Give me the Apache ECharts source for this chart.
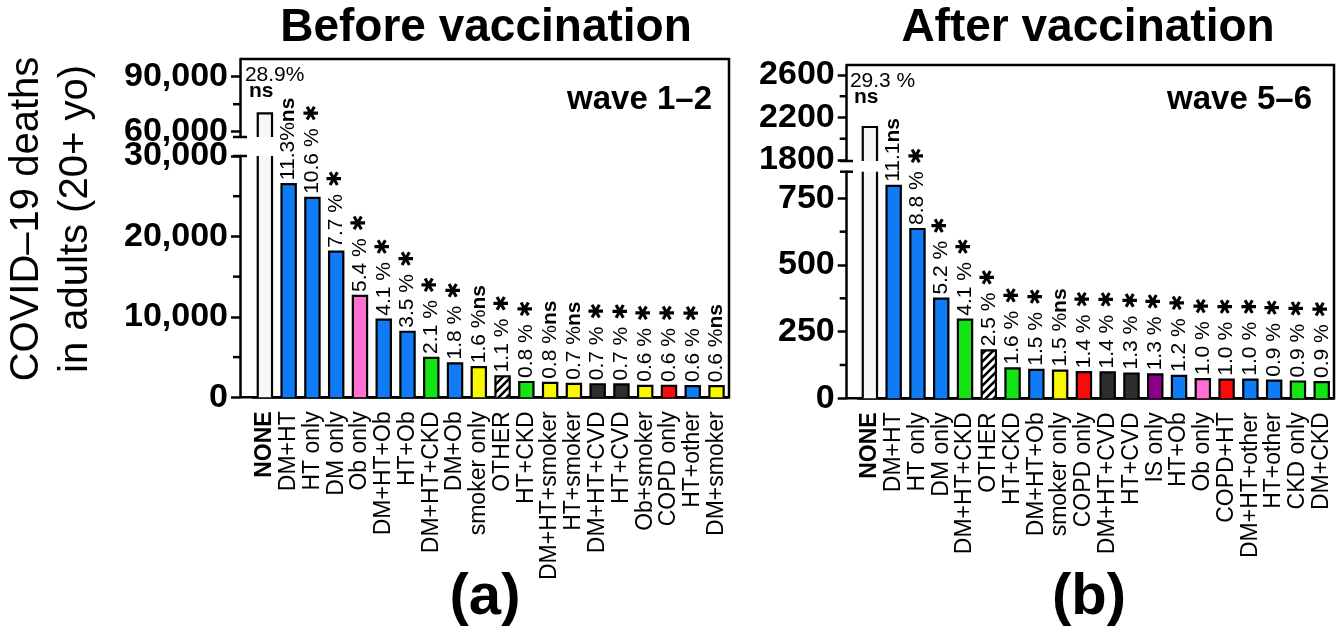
<!DOCTYPE html>
<html><head><meta charset="utf-8">
<script src="https://cdn.jsdelivr.net/npm/echarts@6/dist/echarts.min.js"></script>
<style>html,body{margin:0;padding:0;background:#fff}#c{width:1341px;height:627px}</style>
</head><body><div id="c"></div>
<script>
// ---------- data ----------
const categoriesA = ['NONE','DM+HT','HT only','DM only','Ob only','DM+HT+Ob','HT+Ob','DM+HT+CKD','DM+Ob','smoker only','OTHER','HT+CKD','DM+HT+smoker','HT+smoker','DM+HT+CVD','HT+CVD','Ob+smoker','COPD only','HT+other','DM+smoker'];
const valuesA = [70000,26500,24800,18100,12600,9650,8150,4900,4210,3740,2600,1900,1800,1680,1620,1600,1430,1420,1400,1380];
const percentA = ['28.9%','11.3%','10.6 %','7.7 %','5.4 %','4.1 %','3.5 %','2.1 %','1.8 %','1.6 %','1.1 %','0.8 %','0.8 %','0.7 %','0.7 %','0.7 %','0.6 %','0.6 %','0.6 %','0.6 %'];
const signifA = ['ns','ns','*','*','*','*','*','*','*','ns','*','*','ns','ns','*','*','*','*','*','ns'];
const colorKeysA = ['none','blue','blue','blue','pink','blue','blue','green','blue','yellow','hatch','green','yellow','yellow','dark','dark','yellow','red','blue','yellow'];

const categoriesB = ['NONE','DM+HT','HT only','DM only','DM+HT+CKD','OTHER','HT+CKD','DM+HT+Ob','smoker only','COPD only','DM+HT+CVD','HT+CVD','IS only','HT+Ob','Ob only','COPD+HT','DM+HT+other','HT+other','CKD only','DM+CKD'];
const valuesB = [2110,797,635,374,295,180,112,107,104,98,97,93,90,84,72,70,70,66,63,61];
const percentB = ['29.3 %','11.1','8.8 %','5.2 %','4.1 %','2.5 %','1.6 %','1.5 %','1.5 %','1.4 %','1.4 %','1.3 %','1.3 %','1.2 %','1.0 %','1.0 %','1.0 %','0.9 %','0.9 %','0.9 %'];
const signifB = ['ns','ns','*','*','*','*','*','*','ns','*','*','*','*','*','*','*','*','*','*','*'];
const colorKeysB = ['none','blue','blue','blue','green','hatch','green','blue','yellow','red','dark','dark','purple','blue','pink','red','blue','blue','green','green'];

const ticksAUpper = [60000, 90000];
const minorAUpper = [75000];
const ticksALower = [0, 10000, 20000, 30000];
const minorALower = [5000, 15000, 25000];
const ticksBUpper = [1800, 2200, 2600];
const minorBUpper = [2000, 2400];
const ticksBLower = [0, 250, 500, 750];
const minorBLower = [125, 375, 625];

// ---------- styles ----------
const FF = '"Liberation Sans", Arial, Helvetica, sans-serif';
const hatch = document.createElement('canvas');
hatch.width = 8; hatch.height = 8;
(function () {
  const g = hatch.getContext('2d');
  g.fillStyle = '#fff'; g.fillRect(0, 0, 8, 8);
  g.strokeStyle = '#000'; g.lineWidth = 2.6; g.beginPath();
  g.moveTo(-2, 10); g.lineTo(10, -2);
  g.moveTo(-2, 2); g.lineTo(2, -2);
  g.moveTo(6, 10); g.lineTo(10, 6);
  g.stroke();
})();
const palette = {
  none: '#f7f7f7', blue: '#0f7cf6', green: '#14e414', yellow: '#f8f800',
  pink: '#ff70d2', dark: '#2e2e2e', red: '#fa0a0a', purple: '#8a0088',
  hatch: { image: hatch, repeat: 'repeat' }
};

function barRenderer(pcts, sigs, keys, mode) {
  return function (params, api) {
    const i = api.value(0), v = api.value(1);
    const cs = params.coordSys;
    const pTop = api.coord([i, v]), pBase = api.coord([i, 0]);
    const bw = api.size([1, 0])[0] * 0.6;
    const cx = pTop[0], x0 = cx - bw / 2, x1 = cx + bw / 2;
    let yT = pTop[1], yB = pBase[1];
    const clipT = yT < cs.y, clipB = yB > cs.y + cs.height;
    if (clipT) yT = cs.y;
    if (clipB) yB = cs.y + cs.height;
    const children = [];
    if (yT < yB) {
      children.push({ type: 'rect', shape: { x: x0, y: yT, width: bw, height: yB - yT }, style: { fill: palette[keys[i]] } });
      const ls = { stroke: '#000', lineWidth: 2.2, fill: null };
      if (clipT) {
        children.push({ type: 'polyline', shape: { points: [[x0, yB], [x0, yT]] }, style: ls });
        children.push({ type: 'polyline', shape: { points: [[x1, yT], [x1, yB]] }, style: ls });
      } else {
        children.push({ type: 'polyline', shape: { points: [[x0, yB], [x0, yT], [x1, yT], [x1, yB]] }, style: ls });
      }
    }
    if (mode === 'lower' && i > 0) {
      const sig = sigs[i] === 'ns' ? '{n|ns}' : '{s| ✱}';
      children.push({
        type: 'text', x: cx, y: yT - 4, rotation: Math.PI / 2,
        style: {
          text: '{p|' + pcts[i] + '}' + sig, align: 'left', verticalAlign: 'middle',
          rich: {
            p: { fontSize: 21, fontFamily: FF, fill: '#000' },
            n: { fontSize: 21, fontFamily: FF, fontWeight: 'bold', fill: '#000' },
            s: { fontSize: 20, fontFamily: '"DejaVu Sans", sans-serif', fontWeight: 'bold', fill: '#000' }
          }
        }
      });
    }
    if (mode === 'upper' && i === 0) {
      children.push({ type: 'text', x: cx - 20, y: cs.y + 16, style: { text: pcts[0], fontSize: 21, fontFamily: FF, fill: '#000', align: 'left', verticalAlign: 'middle' } });
      children.push({ type: 'text', x: cx - 16, y: cs.y + 32, style: { text: sigs[0], fontSize: 21, fontWeight: 'bold', fontFamily: FF, fill: '#000', align: 'left', verticalAlign: 'middle' } });
    }
    return { type: 'group', children: children };
  };
}

const grids = [
  { left: 253, top: 59, width: 475.4, height: 78 },
  { left: 253, top: 156, width: 475.4, height: 241.3 },
  { left: 858, top: 65, width: 475.6, height: 96 },
  { left: 858, top: 171.7, width: 475.6, height: 226.6 }
];
const axisX = [240, 240, 846.7, 846.7];

function xAxisFor(gridIndex, cats, show) {
  return {
    type: 'category', gridIndex: gridIndex, data: cats, show: show, boundaryGap: true,
    axisLine: { lineStyle: { color: '#000', width: 2.5 } },
    axisTick: { alignWithLabel: true, length: 8, lineStyle: { color: '#000', width: 2.5 } },
    axisLabel: {
      interval: 0, rotate: 90, fontSize: 23, color: '#000', margin: 14, fontFamily: FF,
      formatter: function (v) { return v === 'NONE' ? '{b|NONE}' : v; },
      rich: { b: { fontWeight: 'bold', fontSize: 23, fontFamily: FF, color: '#000' } }
    },
    splitLine: { show: false }
  };
}
function yMajor(gridIndex, min, max, offset, ticks, fmt) {
  return {
    type: 'value', gridIndex: gridIndex, position: 'left', min: min, max: max, offset: offset,
    axisLine: { show: true, lineStyle: { color: '#000', width: 2.5 } },
    axisTick: { show: true, customValues: ticks, length: 9, lineStyle: { color: '#000', width: 2.5 } },
    axisLabel: { customValues: ticks, formatter: fmt, fontSize: 34, fontWeight: 'bold', color: '#000', margin: 12, fontFamily: FF },
    splitLine: { show: false }
  };
}
const fmtComma = function (v) { return Number(v).toLocaleString('en-US'); };
const fmtPlain = function (v) { return String(v); };

const baseGraphics = [
  { type: 'text', x: 486, y: 28, style: { text: 'Before vaccination', fontSize: 46, fontWeight: 'bold', fontFamily: FF, fill: '#000', align: 'center', verticalAlign: 'middle' } },
  { type: 'text', x: 1088, y: 28, style: { text: 'After vaccination', fontSize: 46, fontWeight: 'bold', fontFamily: FF, fill: '#000', align: 'center', verticalAlign: 'middle' } },
  { type: 'text', x: 712, y: 100, style: { text: 'wave 1–2', fontSize: 33, fontWeight: 'bold', fontFamily: FF, fill: '#000', align: 'right', verticalAlign: 'middle' } },
  { type: 'text', x: 1312, y: 100, style: { text: 'wave 5–6', fontSize: 33, fontWeight: 'bold', fontFamily: FF, fill: '#000', align: 'right', verticalAlign: 'middle' } },
  { type: 'text', x: 485, y: 598, style: { text: '(a)', fontSize: 58, fontWeight: 'bold', fontFamily: FF, fill: '#000', align: 'center', verticalAlign: 'middle' } },
  { type: 'text', x: 1089, y: 598, style: { text: '(b)', fontSize: 58, fontWeight: 'bold', fontFamily: FF, fill: '#000', align: 'center', verticalAlign: 'middle' } },
  { type: 'text', x: 51, y: 219, rotation: Math.PI / 2, style: { text: 'COVID–19 deaths\nin adults (20+ yo)', fontSize: 40, lineHeight: 49, fontFamily: FF, fill: '#000', align: 'center', verticalAlign: 'middle' } },
  { type: 'polyline', shape: { points: [[240, 59], [729, 59], [729, 397.3], [240, 397.3]] }, style: { stroke: '#000', lineWidth: 2.5, fill: null } },
  { type: 'polyline', shape: { points: [[846.7, 65], [1334, 65], [1334, 398.3], [846.7, 398.3]] }, style: { stroke: '#000', lineWidth: 2.5, fill: null } },
  { type: 'line', shape: { x1: 233, y1: 137, x2: 247, y2: 137 }, style: { stroke: '#000', lineWidth: 2.5 } },
  { type: 'line', shape: { x1: 233, y1: 156, x2: 247, y2: 156 }, style: { stroke: '#000', lineWidth: 2.5 } },
  { type: 'line', shape: { x1: 840, y1: 161, x2: 853, y2: 161 }, style: { stroke: '#000', lineWidth: 2.5 } },
  { type: 'line', shape: { x1: 840, y1: 171.7, x2: 853, y2: 171.7 }, style: { stroke: '#000', lineWidth: 2.5 } }
];

const option = {
  animation: false,
  backgroundColor: '#fff',
  grid: grids,
  xAxis: [
    xAxisFor(0, categoriesA, false), xAxisFor(1, categoriesA, true),
    xAxisFor(2, categoriesB, false), xAxisFor(3, categoriesB, true)
  ],
  yAxis: [
    yMajor(0, 57100, 99650, 13, ticksAUpper, fmtComma),
    yMajor(1, 0, 30000, 13, ticksALower, fmtComma),
    yMajor(2, 1790, 2694, 11.3, ticksBUpper, fmtPlain),
    yMajor(3, 0, 850, 11.3, ticksBLower, fmtPlain)
  ],
  series: [
    { type: 'custom', xAxisIndex: 0, yAxisIndex: 0, clip: false, renderItem: barRenderer(percentA, signifA, colorKeysA, 'upper'), data: valuesA.map(function (v, i) { return [i, v]; }) },
    { type: 'custom', xAxisIndex: 1, yAxisIndex: 1, clip: false, renderItem: barRenderer(percentA, signifA, colorKeysA, 'lower'), data: valuesA.map(function (v, i) { return [i, v]; }) },
    { type: 'custom', xAxisIndex: 2, yAxisIndex: 2, clip: false, renderItem: barRenderer(percentB, signifB, colorKeysB, 'upper'), data: valuesB.map(function (v, i) { return [i, v]; }) },
    { type: 'custom', xAxisIndex: 3, yAxisIndex: 3, clip: false, renderItem: barRenderer(percentB, signifB, colorKeysB, 'lower'), data: valuesB.map(function (v, i) { return [i, v]; }) }
  ]
};
const chart = echarts.init(document.getElementById('c'), null, { renderer: 'canvas' });
chart.setOption(option);

// minor ticks, placed through each axis's own scale
const minorSets = [minorAUpper, minorALower, minorBUpper, minorBLower];
const allGraphics = baseGraphics.slice();
minorSets.forEach(function (vals, k) {
  vals.forEach(function (val) {
    const y = chart.convertToPixel({ yAxisIndex: k }, val);
    allGraphics.push({ type: 'line', shape: { x1: axisX[k] - 7, y1: y, x2: axisX[k], y2: y }, style: { stroke: '#000', lineWidth: 2.5 } });
  });
});
chart.setOption({ graphic: allGraphics });
</script>
</body></html>
